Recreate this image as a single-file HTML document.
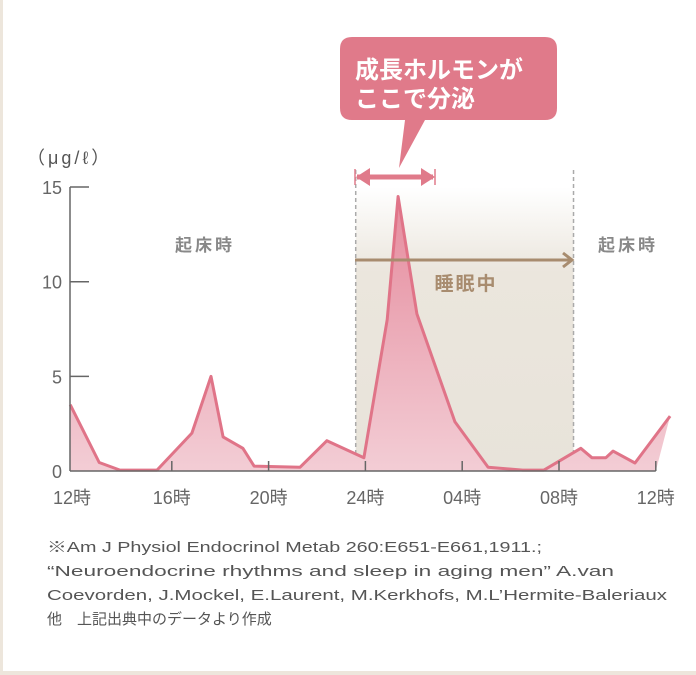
<!DOCTYPE html>
<html><head><meta charset="utf-8">
<style>
html,body{margin:0;padding:0;background:#fff}
svg{display:block}
text{font-family:"Liberation Sans","Noto Sans CJK JP",sans-serif}
</style></head>
<body>
<svg id="chart" width="696" height="675" viewBox="0 0 696 675" xmlns="http://www.w3.org/2000/svg">
<defs>
<linearGradient id="fillg" x1="0" y1="0" x2="0" y2="1">
<stop offset="0" stop-color="#e58b9d"/><stop offset="1" stop-color="#f3cdd5"/>
</linearGradient>
<linearGradient id="bandg" x1="0" y1="0" x2="0" y2="1">
<stop offset="0" stop-color="#ffffff"/><stop offset="0.3" stop-color="#ebe6dd"/><stop offset="1" stop-color="#e8e3da"/>
</linearGradient>
</defs>
<rect x="0" y="0" width="3" height="675" fill="#ede6dc"/>
<rect x="0" y="671" width="696" height="4" fill="#ede6dc"/>
<g id="band"></g>
<g id="series"></g>
<g id="axes"></g>
<g>
<text x="205" y="251" font-size="17" font-weight="bold" fill="#888" text-anchor="middle" letter-spacing="3">起床時</text>
<text x="628" y="251" font-size="17" font-weight="bold" fill="#888" text-anchor="middle" letter-spacing="3">起床時</text>
<line x1="355" y1="260" x2="570" y2="260" stroke="#a88c6f" stroke-width="3"/>
<polyline points="563,253 572,260 563,267" fill="none" stroke="#a88c6f" stroke-width="3"/>
<text x="466" y="290" font-size="19" font-weight="bold" fill="#a88c6f" text-anchor="middle" letter-spacing="2">睡眠中</text>
<path d="M352,37 H545 Q557,37 557,49 V108 Q557,120 545,120 H425 L399,168 L405,120 H352 Q340,120 340,108 V49 Q340,37 352,37 Z" fill="#e07a8a"/>
<text x="355" y="78" font-size="24" font-weight="bold" fill="#fff">成長ホルモンが</text>
<text x="355" y="107" font-size="24" font-weight="bold" fill="#fff">ここで分泌</text>
<line x1="357" y1="177" x2="433" y2="177" stroke="#e07a8a" stroke-width="5"/>
<polygon points="356,177 370,168 370,186" fill="#e07a8a"/>
<polygon points="435,177 421,168 421,186" fill="#e07a8a"/>
<line x1="355" y1="169" x2="355" y2="185" stroke="#e07a8a" stroke-width="1.5"/>
<line x1="435" y1="169" x2="435" y2="185" stroke="#e07a8a" stroke-width="1.5"/>
<text x="27" y="164" font-size="18" fill="#555" letter-spacing="3">（μg/ℓ）</text>
</g>
<g font-size="15" fill="#555">
<text x="47" y="552" textLength="495" lengthAdjust="spacingAndGlyphs">※Am J Physiol Endocrinol Metab 260:E651-E661,1911.;</text>
<text x="47" y="576" textLength="567" lengthAdjust="spacingAndGlyphs">“Neuroendocrine rhythms and sleep in aging men” A.van</text>
<text x="47" y="600" textLength="620" lengthAdjust="spacingAndGlyphs">Coevorden, J.Mockel, E.Laurent, M.Kerkhofs, M.L’Hermite-Baleriaux</text>
<text x="47" y="624" font-size="15">他　上記出典中のデータより作成</text>
</g>
</svg>
<script>
const hours = [-0.2, 1.0, 1.86, 3.39, 4.83, 5.62, 6.12, 6.94, 7.4, 9.3, 10.41, 11.94, 12.9, 13.35, 14.13, 15.7, 17.07, 18.5, 19.38, 20.9, 21.36, 21.94, 22.23, 23.14, 24.59];
const values = [3.5, 0.45, 0.05, 0.05, 2.0, 5.0, 1.8, 1.2, 0.26, 0.2, 1.6, 0.7, 8.0, 14.5, 8.3, 2.6, 0.2, 0.05, 0.05, 1.2, 0.7, 0.7, 1.05, 0.42, 2.9];
const xTickHours = [4, 8, 12, 16, 20, 24];
const xTickLabels = ['12時', '16時', '20時', '24時', '04時', '08時', '12時'];
const xLabelHours = [0, 4, 8, 12, 16, 20, 24];
const yTicks = [0, 5, 10, 15];
const sleepStart = 11.6, sleepEnd = 20.6;

const NS = 'http://www.w3.org/2000/svg';
function X(h){ return 75 + h * 24.2; }
function Y(v){ return 471 - v * 18.93; }
function mk(tag, attrs, parent){
  const e = document.createElementNS(NS, tag);
  for (const k in attrs) e.setAttribute(k, attrs[k]);
  parent.appendChild(e); return e;
}
const band = document.getElementById('band');
const series = document.getElementById('series');
const axes = document.getElementById('axes');

const br = mk('rect', {x: X(sleepStart), y: 187, width: X(sleepEnd) - X(sleepStart), height: 284, fill: 'url(#bandg)'}, band);


[sleepStart, sleepEnd].forEach(function(h){
  const l = mk('line', {x1: X(h), y1: 170, x2: X(h), y2: 471, stroke: '#aaa', 'stroke-width': 1.5, 'stroke-dasharray': '4,3'}, band);
  
  
});

let pts = hours.map(function(h, i){ return X(h).toFixed(1) + ',' + Y(values[i]).toFixed(1); });
const area = mk('polygon', {points: '70,471 ' + pts.join(' ') + ' ' + X(24) + ',471', fill: 'url(#fillg)'}, series);


const line = mk('polyline', {points: pts.join(' '), fill: 'none', stroke: '#e07488', 'stroke-width': 3, 'stroke-linejoin': 'round'}, series);



const ya = mk('line', {x1: 70, y1: Y(15), x2: 70, y2: 471, stroke: '#666', 'stroke-width': 1.5}, axes);


const xa = mk('line', {x1: 70, y1: 471, x2: X(24), y2: 471, stroke: '#666', 'stroke-width': 1.5}, axes);


yTicks.forEach(function(v){
  if (v > 0) {
    const t = mk('line', {x1: 70, y1: Y(v), x2: 89, y2: Y(v), stroke: '#666', 'stroke-width': 1.5}, axes);
    
    
  }
  const tx = mk('text', {x: 62, y: Y(v) + 7, 'font-size': 18, fill: '#666', 'text-anchor': 'end'}, axes);
  tx.textContent = String(v);
  
  
});
xTickHours.forEach(function(h){
  const t = mk('line', {x1: X(h), y1: 461, x2: X(h), y2: 471, stroke: '#666', 'stroke-width': 1.5}, axes);
  
  
});
xLabelHours.forEach(function(h, i){
  const cx = i === 0 ? 72 : X(h);
  const tx = mk('text', {x: cx, y: 504, 'font-size': 18, fill: '#666', 'text-anchor': 'middle'}, axes);
  tx.textContent = xTickLabels[i];
  
  
});
</script>
</body></html>
